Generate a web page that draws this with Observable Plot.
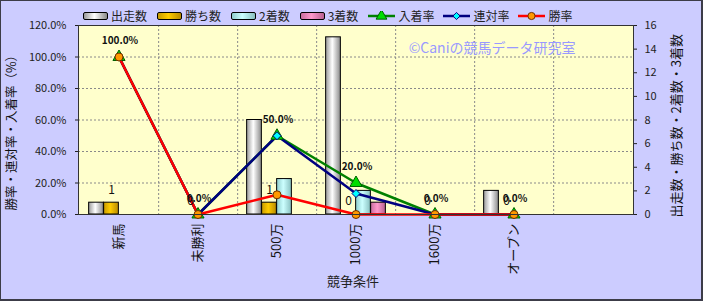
<!DOCTYPE html>
<html><head><meta charset="utf-8">
<script src="https://cdn.jsdelivr.net/npm/d3@7"></script>
<script src="https://cdn.jsdelivr.net/npm/@observablehq/plot@0.6"></script>
<style>
html,body{margin:0;padding:0;background:#fff;}
#chart{position:relative;width:703px;height:301px;box-sizing:border-box;background:#ccccff;border-style:solid;border-color:#3c3c48;border-width:1px 2px 2px 1px;font-family:"Noto Sans CJK JP",sans-serif;overflow:hidden;}
#chart svg{display:block;}
#legend{position:absolute;left:82px;top:6px;height:18px;display:flex;align-items:center;font-size:12px;color:#222;white-space:nowrap;line-height:18px;}
.item{display:flex;align-items:center;margin-right:10px;}
.sw{width:25px;height:8px;border:1px solid #000;margin-right:3px;box-sizing:border-box;border-radius:2px;}
.ln{width:27px;height:10px;margin-right:3px;}
</style></head>
<body><div id="chart"><div id="legend"></div></div>
<script>
// ---- data ----
const categories = ["新馬", "未勝利", "500万", "1000万", "1600万", "オープン"];
const starts  = [1, 0, 8, 15, 0, 2];   // 出走数
const wins    = [1, 0, 1, 0, 0, 0];    // 勝ち数
const seconds = [0, 0, 3, 2, 0, 0];    // 2着数
const thirds  = [0, 0, 0, 1, 0, 0];    // 3着数
const placeRate    = [100, 0, 50, 20, 0, 0];    // 入着率 (%)
const quinellaRate = [100, 0, 50, 13.3, 0, 0];  // 連対率 (%)
const winRate      = [100, 0, 12.5, 0, 0, 0];   // 勝率 (%)
const leftTicks  = [0, 20, 40, 60, 80, 100, 120];
const rightTicks = [0, 2, 4, 6, 8, 10, 12, 14, 16];
const xDomain = [...categories, ""];

const pctMax = 120, countMax = 16, k = pctMax / countMax;

const barSeries = [
  {name: "出走数", values: starts,  grad: "gStart",  stops: ["#9a9a9a", "#ffffff", "#8a8a8a"]},
  {name: "勝ち数", values: wins,    grad: "gWin",    stops: ["#c89a00", "#ffcc00", "#b88a00"]},
  {name: "2着数",  values: seconds, grad: "gSecond", stops: ["#8ecccc", "#ccffff", "#88c0c0"]},
  {name: "3着数",  values: thirds,  grad: "gThird",  stops: ["#c86c9c", "#ff99cc", "#b86090"]}
];
const rateSeries = [
  {name: "入着率", values: placeRate,    stroke: "#008000", fill: "#00dd00", symbol: "triangle", r: 4.5, ms: "#006000"},
  {name: "連対率", values: quinellaRate, stroke: "#000080", fill: "#00ffff", symbol: "diamond2", r: 3.6, ms: "#000080"},
  {name: "勝率",   values: winRate,      stroke: "#ff0000", fill: "#ff9900", symbol: "circle",   r: 4,   ms: "#703000"}
];

// ---- layout ----
const W = 700, H = 298, mL = 77, mR = 68, mT = 24, mB = 85;
const bw = (W - mL - mR) / xDomain.length;
const barW = 15;
const pad0 = (bw - 4 * barW) / 2;

const marks = [
  Plot.frame({fill: "#ffffcc"}),
  Plot.ruleY(leftTicks.filter(t => t > 0 && t < pctMax), {stroke: "#8a8a8a", strokeDasharray: "2,2", strokeWidth: 1}),
  Plot.ruleX(categories, {x: d => d, dx: bw / 2, stroke: "#8a8a8a", strokeDasharray: "2,2", strokeWidth: 1}),
  Plot.text(["©Caniの競馬データ研究室"], {frameAnchor: "top-right", textAnchor: "end", dx: -58, dy: 18, fill: "#9999ff", fontSize: 14})
];
barSeries.forEach((s, j) => {
  const iL = pad0 + j * barW;
  marks.push(Plot.barY(categories, {
    x: d => d, y: (d, i) => s.values[i] * k,
    filter: (d, i) => s.values[i] > 0,
    fill: `url(#${s.grad})`, stroke: "#000", strokeWidth: 1,
    insetLeft: iL, insetRight: bw - iL - barW
  }));
});
rateSeries.forEach(s => {
  marks.push(Plot.lineY(categories, {x: d => d, y: (d, i) => s.values[i], stroke: s.stroke, strokeWidth: 2.5, strokeLinejoin: "round"}));
});
rateSeries.forEach(s => {
  marks.push(Plot.dot(categories, {x: d => d, y: (d, i) => s.values[i], symbol: s.symbol, r: s.r, fill: s.fill, stroke: s.ms, strokeWidth: 1}));
});
// labels: 勝ち数 counts and 入着率 percentages
marks.push(Plot.text(categories, {x: d => d, y: (d, i) => wins[i] * k, text: (d, i) => String(wins[i]), dx: -barW / 2, dy: -13, fontSize: 12, fill: "#111"}));
marks.push(Plot.text(categories, {x: d => d, y: (d, i) => placeRate[i], text: (d, i) => placeRate[i].toFixed(1) + "%", dx: 1, dy: -16, fontSize: 10, fontWeight: "bold", fill: "#111"}));
// axes
marks.push(
  Plot.axisY(leftTicks, {anchor: "left", tickFormat: d => d.toFixed(1) + "%", tickSize: 3, tickPadding: 9, fontSize: 11, label: null}),
  Plot.axisY(rightTicks.map(t => t * k), {anchor: "right", tickFormat: d => String(Math.round(d / k)), tickSize: 3, tickPadding: 8, fontSize: 11, label: null}),
  Plot.axisX({tickRotate: -90, tickSize: 0, tickPadding: 9, fontSize: 13, label: null, fill: "#111"}),
  Plot.text(["勝率・連対率・入着率（%）"], {frameAnchor: "bottom-left", textAnchor: "start", rotate: -90, dx: -63, dy: -4, fontSize: 12.5, fill: "#111"}),
  Plot.text(["出走数・勝ち数・2着数・3着数"], {frameAnchor: "bottom-right", textAnchor: "start", rotate: -90, dx: 47, dy: 3, fontSize: 13, fill: "#111"}),
  Plot.text(["競争条件"], {frameAnchor: "bottom", dx: -3, dy: 71, fontSize: 13, fill: "#222"}),
  Plot.frame({stroke: "#333", strokeWidth: 1})
);

const plot = Plot.plot({
  width: W, height: H,
  marginLeft: mL, marginRight: mR, marginTop: mT, marginBottom: mB,
  style: {background: "none", fontFamily: "'Noto Sans CJK JP', sans-serif", fontSize: "11px", color: "#222", overflow: "visible"},
  x: {type: "band", domain: xDomain, padding: 0},
  y: {domain: [0, pctMax]},
  marks
});

// gradients for the bar fills
const defs = d3.select(plot).insert("defs", ":first-child");
barSeries.forEach(s => {
  const g = defs.append("linearGradient").attr("id", s.grad).attr("x1", "0").attr("x2", "1").attr("y1", "0").attr("y2", "0");
  g.append("stop").attr("offset", "0%").attr("stop-color", s.stops[0]);
  g.append("stop").attr("offset", "45%").attr("stop-color", s.stops[1]);
  g.append("stop").attr("offset", "100%").attr("stop-color", s.stops[2]);
});
document.getElementById("chart").appendChild(plot);

// legend
const legend = document.getElementById("legend");
barSeries.forEach(s => {
  const it = document.createElement("span"); it.className = "item";
  it.innerHTML = `<span class="sw" style="background:linear-gradient(to right, ${s.stops[0]}, ${s.stops[1]} 45%, ${s.stops[2]})"></span>${s.name}`;
  legend.appendChild(it);
});
rateSeries.forEach(s => {
  const it = document.createElement("span"); it.className = "item"; it.style.marginRight = "9px";
  const sym = d3.symbol(s.symbol === "triangle" ? d3.symbolTriangle : s.symbol === "diamond2" ? d3.symbolDiamond2 : d3.symbolCircle, Math.PI * s.r * s.r * 0.8)();
  it.innerHTML = `<svg class="ln" viewBox="0 0 27 10"><line x1="0" y1="5" x2="27" y2="5" stroke="${s.stroke}" stroke-width="2.5"/><path d="${sym}" transform="translate(13.5,5)" fill="${s.fill}" stroke="${s.ms}" stroke-width="1"/></svg>${s.name}`;
  legend.appendChild(it);
});
</script></body></html>
